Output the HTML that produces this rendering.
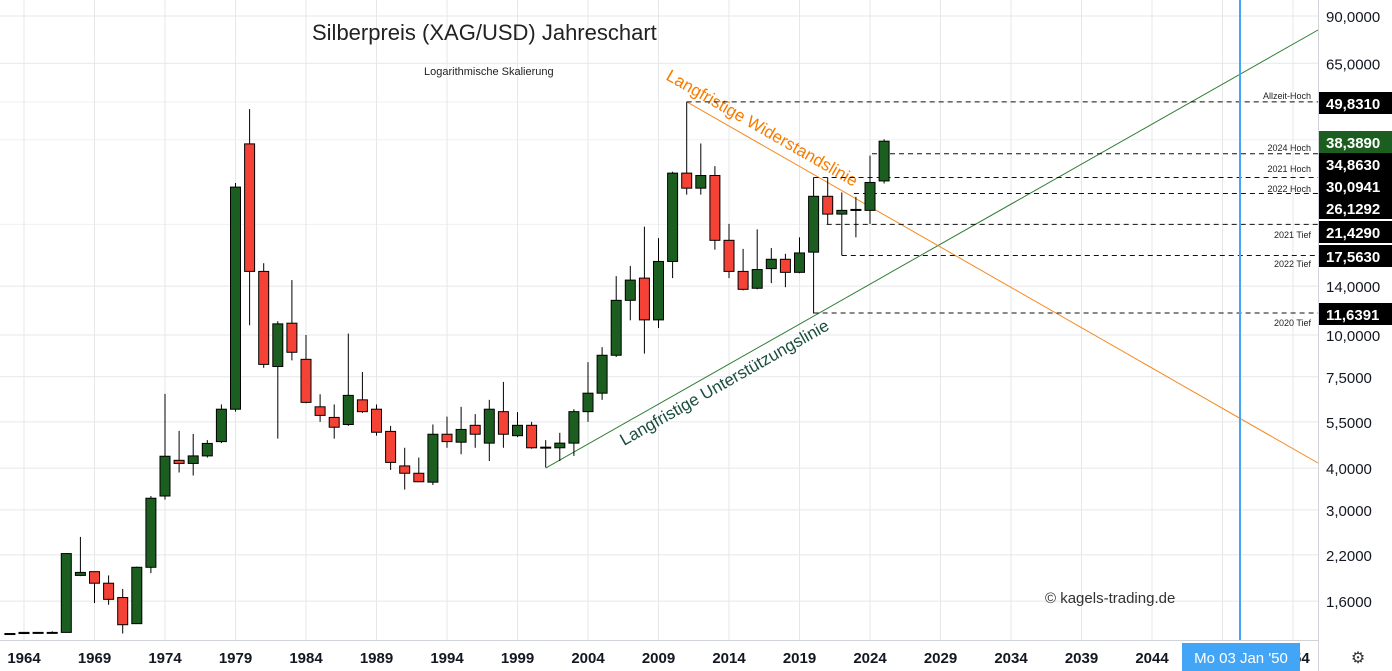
<!DOCTYPE html>
<html><head><meta charset="utf-8"><style>
body{margin:0;background:#fff;font-family:"Liberation Sans",sans-serif}
svg{display:block}
</style></head><body>
<svg id="chart" width="1392" height="671" xmlns="http://www.w3.org/2000/svg">
<g id="grid"></g>
<g id="anno"></g>
<g id="candles"></g>
<g id="axes"></g>
<text x="312" y="40" font-size="22" fill="#222">Silberpreis (XAG/USD) Jahreschart</text>
<text x="424" y="75" font-size="11" fill="#222">Logarithmische Skalierung</text>
<text x="1045" y="603" font-size="15" fill="#333">© kagels-trading.de</text>
</svg>
<script>
const years=[1963,1964,1965,1966,1967,1968,1969,1970,1971,1972,1973,1974,1975,1976,1977,1978,1979,1980,1981,1982,1983,1984,1985,1986,1987,1988,1989,1990,1991,1992,1993,1994,1995,1996,1997,1998,1999,2000,2001,2002,2003,2004,2005,2006,2007,2008,2009,2010,2011,2012,2013,2014,2015,2016,2017,2018,2019,2020,2021,2022,2023,2024,2025];
const opens=[1.28,1.28,1.29,1.29,1.29,1.91,1.96,1.81,1.64,1.37,2.02,3.3,4.22,4.13,4.35,4.8,6.0,37.3,15.5,8.05,10.85,8.46,6.1,5.67,5.4,6.4,6.0,5.15,4.06,3.86,3.63,5.05,4.78,5.37,4.75,5.9,5.0,5.37,4.6,4.6,4.75,5.9,6.7,8.7,12.7,14.8,11.1,16.6,30.5,27.5,30.0,19.2,15.5,13.8,15.8,16.85,15.4,17.7,26.0,23.0,23.6,23.6,28.9];
const closes=[1.28,1.29,1.29,1.29,2.22,1.95,1.81,1.62,1.36,2.02,3.25,4.34,4.13,4.35,4.74,6.0,27.7,15.5,8.17,10.8,8.88,6.29,5.75,5.3,6.6,5.9,5.12,4.16,3.86,3.64,5.05,4.8,5.22,5.05,6.0,5.05,5.37,4.6,4.62,4.75,5.9,6.7,8.7,12.7,14.6,11.1,16.6,30.5,27.5,30.0,19.2,15.5,13.7,15.7,16.85,15.4,17.6,26.0,23.0,23.6,23.75,28.6,38.0];
const highs=[1.28,1.29,1.29,1.30,2.22,2.49,1.96,1.91,1.74,2.03,3.3,6.67,5.17,5.06,4.85,6.2,28.5,47.4,16.4,11.0,14.6,10.0,6.65,6.2,10.1,7.75,6.2,5.35,4.6,4.3,5.4,5.7,6.1,5.8,6.4,7.24,5.88,5.5,4.85,5.1,6.0,8.3,9.2,15.0,16.1,21.1,19.5,30.8,49.8,37.4,32.0,21.5,18.1,20.7,18.2,17.5,19.6,29.6,29.6,26.7,25.9,34.4,38.5];
const lows=[1.28,1.28,1.28,1.29,1.29,1.90,1.58,1.56,1.28,1.37,1.94,3.22,3.88,3.8,4.3,4.75,5.9,10.7,7.98,4.9,8.4,6.25,5.5,4.9,5.35,5.85,5.0,3.95,3.45,3.66,3.56,4.6,4.4,4.6,4.2,4.6,4.95,4.57,4.02,4.2,4.35,5.5,6.4,8.6,11.07,8.8,10.5,14.8,26.3,26.3,18.0,14.8,13.6,13.7,14.3,13.9,15.3,11.6,21.4,17.3,19.6,21.5,28.4];
const tickVals=[90,65,14,10,7.5,5.5,4,3,2.2,1.6];
const tickLabels=["90,0000","65,0000","14,0000","10,0000","7,5000","5,5000","4,0000","3,0000","2,2000","1,6000"];
const yearTicks=[1964,1969,1974,1979,1984,1989,1994,1999,2004,2009,2014,2019,2024,2029,2034,2039,2044,2049,2054];
const levelNames=["Allzeit-Hoch","2024 Hoch","2021 Hoch","2022 Hoch","2021 Tief","2022 Tief","2020 Tief"];
const boxLabels=["49,8310","38,3890","34,8630","30,0941","26,1292","21,4290","17,5630","11,6391"];

const NS="http://www.w3.org/2000/svg";
const X=y=>24+(y-1964)*14.1;
const Y=v=>16+(Math.log(90)-Math.log(v))*145.2;
function mk(tag,attrs,parent){const e=document.createElementNS(NS,tag);for(const k in attrs)e.setAttribute(k,attrs[k]);parent.appendChild(e);return e;}
const G=document.getElementById('grid'),A=document.getElementById('anno'),C=document.getElementById('candles'),AX=document.getElementById('axes');

tickVals.forEach(v=>{const l=mk('line',{x1:0,x2:1318,y1:Y(v),y2:Y(v),stroke:'#e6e7ea'},G);

});
[49.831,38.389,21.429].forEach(v=>{const l=mk('line',{x1:0,x2:1318,y1:Y(v),y2:Y(v),stroke:'#eef0f3'},G);

});
yearTicks.forEach(y=>{const l=mk('line',{x1:X(y),x2:X(y),y1:0,y2:640,stroke:'#e6e7ea'},G);

});

const sx1=X(2001),sy1=Y(4.0),sx2=1318,sy2=30;
const sup=mk('line',{x1:sx1,y1:sy1,x2:sx2,y2:sy2,stroke:'#2e7d32','stroke-width':1},A);


const rx1=X(2011),ry1=Y(49.831),rx2=1318,ry2=463;
const res=mk('line',{x1:rx1,y1:ry1,x2:rx2,y2:ry2,stroke:'#f5891f','stroke-width':1},A);


const ra=Math.atan2(ry2-ry1,rx2-rx1)*180/Math.PI, sa=Math.atan2(sy2-sy1,sx2-sx1)*180/Math.PI;
const rt=mk('text',{x:665,y:79,'font-size':17,fill:'#f57c00',transform:`rotate(${ra} 665 79)`},A);rt.textContent='Langfristige Widerstandslinie';


const st=mk('text',{x:624,y:446,'font-size':17,fill:'#1b4d3e',transform:`rotate(${sa} 624 446)`},A);st.textContent='Langfristige Unterstützungslinie';



const levelYs=[Y(49.831),Y(34.863),Y(29.6),Y(26.5),Y(21.429),Y(17.3),Y(11.6391)];
const levelStart=[X(2011),X(2024)+2,X(2020),X(2023)-2,X(2021)-1,X(2022),X(2020)];
const nameYs=[99,151,172,192,238,267,326];
levelYs.forEach((y,i)=>{const l=mk('line',{x1:levelStart[i],x2:1318,y1:y,y2:y,stroke:'#111','stroke-dasharray':'5 4'},A);


const t=mk('text',{x:1311,y:nameYs[i],'font-size':9,fill:'#222','text-anchor':'end'},A);t.textContent=levelNames[i];

});

years.forEach((yr,i)=>{const x=X(yr),o=opens[i],c=closes[i],up=c>=o;
const g=mk('g',{},C);


mk('line',{x1:x,x2:x,y1:Y(highs[i]),y2:Y(lows[i]),stroke:'#000','stroke-width':1},g);
const top=Y(Math.max(o,c)),bot=Y(Math.min(o,c));
mk('rect',{x:x-5,y:top,width:10,height:Math.max(bot-top,1),fill:up?'#1b5e20':'#f44336',stroke:'#000','stroke-width':1},g);});

const bl=mk('line',{x1:1240,x2:1240,y1:0,y2:643,stroke:'#42a5f5','stroke-width':2},AX);



mk('rect',{x:1318,y:0,width:74,height:671,fill:'#fff'},AX);
mk('rect',{x:0,y:640,width:1318,height:31,fill:'#fff'},AX);
mk('line',{x1:1318.5,x2:1318.5,y1:0,y2:671,stroke:'#d0d3d9'},AX);
mk('line',{x1:0,x2:1318,y1:640.5,y2:640.5,stroke:'#d0d3d9'},AX);
tickVals.forEach((v,i)=>{const t=mk('text',{x:1326,y:Y(v)+6,'font-size':15,fill:'#131722'},AX);t.textContent=tickLabels[i];

});
const boxYs=[103,142,164,186,208,232,256,314];
boxLabels.forEach((s,i)=>{const r=mk('rect',{x:1319,y:boxYs[i]-11,width:73,height:22,fill:i==1?'#1b5e20':'#000'},AX);


const t=mk('text',{x:1326,y:boxYs[i]+6,'font-size':15,fill:'#fff','font-weight':'bold'},AX);t.textContent=s;

});
yearTicks.forEach(y=>{const t=mk('text',{x:X(y),y:663,'font-size':15,fill:'#131722','text-anchor':'middle','font-weight':'bold'},AX);t.textContent=y;

});
const db=mk('rect',{x:1182,y:643,width:118,height:28,fill:'#42a5f5'},AX);


const dt=mk('text',{x:1241,y:663,'font-size':15,fill:'#fff','text-anchor':'middle'},AX);dt.textContent="Mo 03 Jan '50";


const gear=mk('text',{x:1358,y:663,'font-size':16,fill:'#333','text-anchor':'middle'},AX);gear.textContent='⚙';


</script>
</body></html>
